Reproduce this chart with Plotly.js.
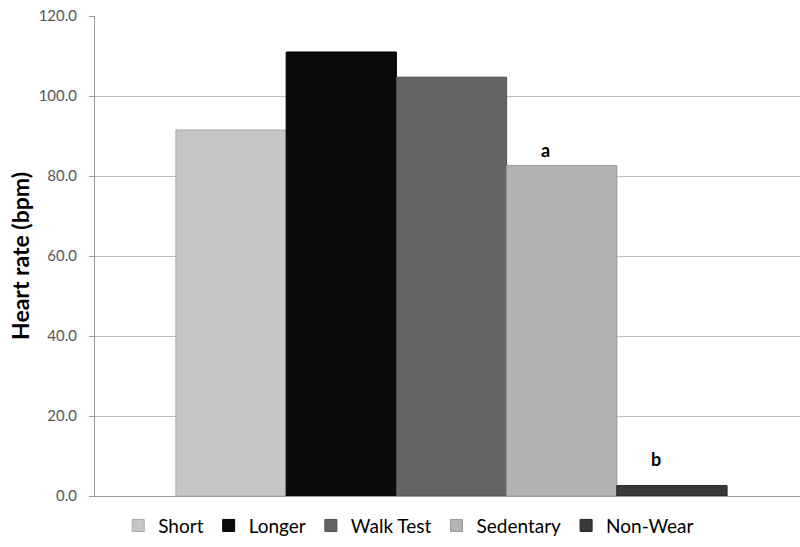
<!DOCTYPE html>
<html>
<head>
<meta charset="utf-8">
<script src="https://cdn.plot.ly/plotly-3.0.1.min.js"></script>
<style>
  html, body { margin: 0; padding: 0; background: #fff; }
  #chart { width: 800px; height: 547px; }
</style>
</head>
<body>
<div id="chart"></div>
<script>
// Mean heart rate by activity category
const categories = ['Short', 'Longer', 'Walk Test', 'Sedentary', 'Non-Wear'];
const heartRate = [91.5, 111.0, 104.7, 82.6, 2.6];
const barColors = ['#c6c6c6', '#0a0a0a', '#646464', '#b3b3b3', '#3a3a3a'];
const edgeColors = ['#a8a8a8', '#000000', '#4e4e4e', '#969696', '#222222'];
// significance letters attached to categories
const sigLetters = { 'Sedentary': 'a', 'Non-Wear': 'b' };
const sigLift = { 'Sedentary': 16, 'Non-Wear': 27 };
const yTicks = [0, 20, 40, 60, 80, 100, 120];

const BARGAP = 0.227;
const groupWidth = 1 - BARGAP;
const barWidth = groupWidth / categories.length;
const FONT = 'Lato, "Open Sans", sans-serif';

const traces = categories.map((name, i) => ({
  type: 'bar',
  name: name,
  x: [0],
  y: [heartRate[i]],
  marker: { color: barColors[i], line: { color: edgeColors[i], width: 1 } },
  hoverinfo: 'name+y'
}));

const annotations = categories
  .map((name, i) => ({ name, i }))
  .filter(d => sigLetters[d.name])
  .map(d => ({
    x: -groupWidth / 2 + barWidth * (d.i + 0.5),
    y: heartRate[d.i],
    xref: 'x', yref: 'y',
    text: '<b>' + sigLetters[d.name] + '</b>',
    showarrow: false,
    xshift: -16,
    yshift: sigLift[d.name],
    font: { family: FONT, size: 18, color: '#000' }
  }));

const layout = {
  width: 800,
  height: 547,
  margin: { l: 95, r: 0, t: 16, b: 51 },
  paper_bgcolor: '#ffffff',
  plot_bgcolor: '#ffffff',
  barmode: 'group',
  bargap: BARGAP,
  bargroupgap: 0,
  showlegend: true,
  legend: {
    orientation: 'h',
    x: 0.445, xanchor: 'center',
    xref: 'paper',
    y: -0.022, yanchor: 'top',
    font: { family: FONT, size: 19, color: '#000' },
    itemwidth: 30,
    tracegroupgap: 0
  },
  xaxis: {
    type: 'linear',
    range: [-0.5, 0.48878],
    showticklabels: false,
    showgrid: false,
    zeroline: false,
    showline: true,
    linecolor: '#9a9a9a',
    linewidth: 1,
    ticks: '',
    fixedrange: true
  },
  yaxis: {
    range: [0, 120],
    tickvals: yTicks,
    ticktext: yTicks.map(v => v.toFixed(1)),
    tickfont: { family: FONT, size: 15, color: '#555555' },
    ticks: 'outside',
    ticklen: 5,
    tickcolor: '#9a9a9a',
    ticklabelstandoff: 9,
    showline: true,
    linecolor: '#9a9a9a',
    linewidth: 1,
    showgrid: true,
    gridcolor: '#bdbdbd',
    gridwidth: 1,
    zeroline: false,
    title: {
      text: '<b>Heart rate (bpm)</b>',
      font: { family: FONT, size: 23, color: '#000' },
      standoff: 2
    }
  },
  annotations: annotations
};

Plotly.newPlot('chart', traces, layout, { displayModeBar: false, staticPlot: true });
</script>
</body>
</html>
